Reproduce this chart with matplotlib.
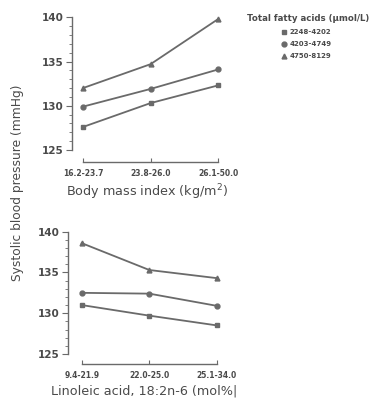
import numpy as np
import matplotlib.pyplot as plt
from matplotlib.ticker import FixedLocator

# Data
bmi_groups = ['16.2-23.7', '23.8-26.0', '26.1-50.0']
la_groups = ['9.4-21.9', '22.0-25.0', '25.1-34.0']
tfa_labels = ['2248-4202', '4203-4749', '4750-8129']
markers = ['s', 'o', '^']

bmi_low = [127.6, 130.3, 132.3]
bmi_mid = [129.9, 131.9, 134.1]
bmi_high = [132.0, 134.7, 139.8]

la_low = [131.0, 129.7, 128.5]
la_mid = [132.5, 132.4, 130.9]
la_high = [138.6, 135.3, 134.3]

line_col = '#6a6a6a'
text_col = '#4a4a4a'

fig = plt.figure(figsize=(3.7, 4.07), dpi=100)
ax1 = fig.add_axes([0.1946, 0.602, 0.404, 0.362])
ax2 = fig.add_axes([0.1846, 0.1057, 0.411, 0.331])


def style_axis(ax, groups, xlabel, xlim, ylim):
    ax.set_xlim(*xlim)
    ax.set_ylim(*ylim)
    for s in ['top', 'right']:
        ax.spines[s].set_visible(False)
    ax.spines['left'].set_bounds(125, 140)
    ax.spines['bottom'].set_bounds(0, 2)
    for s in ['left', 'bottom']:
        ax.spines[s].set_color(line_col)
        ax.spines[s].set_linewidth(1.0)
    ax.set_yticks([125, 130, 135, 140])
    ax.yaxis.set_minor_locator(FixedLocator(np.arange(125, 141)))
    ax.tick_params(axis='y', which='major', direction='out', length=4,
                   color=line_col, labelsize=7.5, labelcolor=text_col, pad=2)
    ax.tick_params(axis='y', which='minor', direction='out', length=2,
                   color=line_col)
    for lab in ax.get_yticklabels():
        lab.set_fontweight('bold')
    ax.set_xticks(range(len(groups)))
    ax.set_xticklabels(groups, fontsize=5.5, fontweight='bold', color=text_col)
    ax.tick_params(axis='x', direction='in', length=3, color=line_col, pad=5)
    ax.set_xlabel(xlabel, fontsize=9.2, color=text_col, labelpad=3)


series_top = [bmi_low, bmi_mid, bmi_high]
series_bot = [la_low, la_mid, la_high]
for vals, m, lab in zip(series_top, markers, tfa_labels):
    ax1.plot(range(3), vals, color=line_col, lw=1.3, marker=m,
             markersize=3.5, label=lab)
for vals, m in zip(series_bot, markers):
    ax2.plot(range(3), vals, color=line_col, lw=1.3, marker=m, markersize=3.5)

style_axis(ax1, bmi_groups, 'Body mass index (kg/m$^2$)', (-0.163, 2.05), (123.64, 140.3))
style_axis(ax2, la_groups, 'Linoleic acid, 18:2n-6 (mol%|', (-0.198, 2.05), (123.77, 140.3))

leg = ax1.legend(loc='upper center', bbox_to_anchor=(1.58, 1.045), frameon=False,
                 title='Total fatty acids (\u03bcmol/L)', fontsize=5,
                 title_fontsize=6.2, handlelength=0, handletextpad=0.8,
                 labelspacing=0.85, alignment='center')
leg.get_title().set_fontweight('bold')
leg.get_title().set_color(text_col)
for t in leg.get_texts():
    t.set_fontweight('bold')
    t.set_color(text_col)

fig.text(0.046, 0.552, 'Systolic blood pressure (mmHg)', rotation=90,
         ha='center', va='center', fontsize=8.8, color=text_col)

fig.savefig('out.png', dpi=100)
